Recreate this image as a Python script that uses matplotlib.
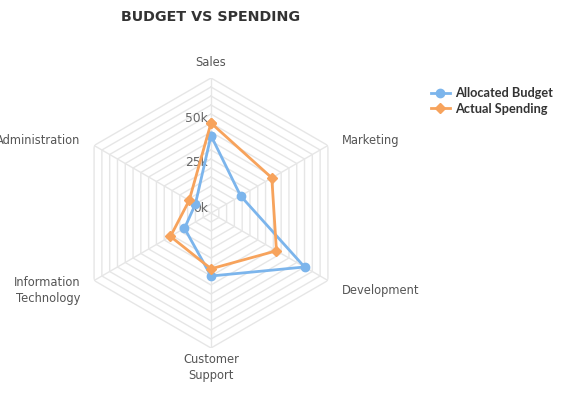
import numpy as np
import matplotlib
matplotlib.use("Agg")
import matplotlib.pyplot as plt
from matplotlib.lines import Line2D

categories = ["Sales", "Marketing", "Development", "Customer\nSupport",
              "Information\nTechnology", "Administration"]
allocated = [43000, 19000, 60000, 35000, 17000, 10000]
actual = [50000, 39000, 42000, 31000, 26000, 14000]
tick_values = [0, 25000, 50000]
tick_labels = ["0k", "25k", "50k"]
r_max = 75000
ring_step = 5000

W, H = 584, 400
fig = plt.figure(figsize=(W / 100, H / 100), dpi=100)
cx, cy, R = 211, 213, 135
ax = fig.add_axes([(cx - R) / W, (H - cy - R) / H, 2 * R / W, 2 * R / H],
                  projection="polar")
ax.set_theta_zero_location("N")
ax.set_theta_direction(-1)
ax.set_ylim(0, r_max)
ax.grid(False)
ax.set_xticks([])
ax.set_yticks([])
ax.spines["polar"].set_visible(False)
ax.patch.set_alpha(0)

n = len(categories)
thetas = np.arange(n) * 2 * np.pi / n
closed_t = np.append(thetas, thetas[0])

grid_c = "#e6e6e6"
for r in np.arange(ring_step, r_max + 1, ring_step):
    ax.plot(closed_t, [r] * (n + 1), color=grid_c, lw=1, zorder=1)
for t in thetas:
    ax.plot([t, t], [0, r_max], color=grid_c, lw=1, zorder=1)

blue = "#7cb5ec"
orange = "#f7a35c"
ax.plot(closed_t, allocated + allocated[:1], color=blue, lw=2, marker="o",
        markersize=6, zorder=3, clip_on=False)
ax.plot(closed_t, actual + actual[:1], color=orange, lw=2, marker="D",
        markersize=5, zorder=4, clip_on=False)

# radial tick labels
for v, lab in zip(tick_values, tick_labels):
    ax.annotate(lab, xy=(0, v), xytext=(-3, 5), textcoords="offset pixels",
                ha="right", va="center", fontsize=8.8, color="#666666",
                zorder=2, annotation_clip=False)

# category labels
offsets = [(0, 15, "center", "center"), (14, 5, "left", "center"),
           (14, -10, "left", "center"), (0, -5, "center", "top"),
           (-14, -10, "right", "center"), (-14, 5, "right", "center")]
for t, lab, (dx, dy, ha, va) in zip(thetas, categories, offsets):
    ax.annotate(lab, xy=(t, r_max), xytext=(dx, dy), textcoords="offset pixels",
                ha=ha, va=va, fontsize=8.3, color="#555555", linespacing=1.3,
                annotation_clip=False)

fig.text(cx / W, 1 - 17 / H, "BUDGET VS SPENDING", ha="center", va="center",
         fontsize=10.3, fontweight="bold", color="#333333")

handles = [Line2D([], [], color=blue, lw=2, marker="o", markersize=6),
           Line2D([], [], color=orange, lw=2, marker="D", markersize=5)]
fig.legend(handles, ["Allocated Budget", "Actual Spending"],
           loc="upper left", bbox_to_anchor=(431 / W, 1 - 87 / H),
           frameon=False, prop={"family": "Lato", "weight": "bold", "size": 9.2},
           labelcolor="#333333", handlelength=1.45, handletextpad=0.4,
           labelspacing=0.3, borderpad=0, borderaxespad=0)

fig.savefig("out.png", dpi=100)
